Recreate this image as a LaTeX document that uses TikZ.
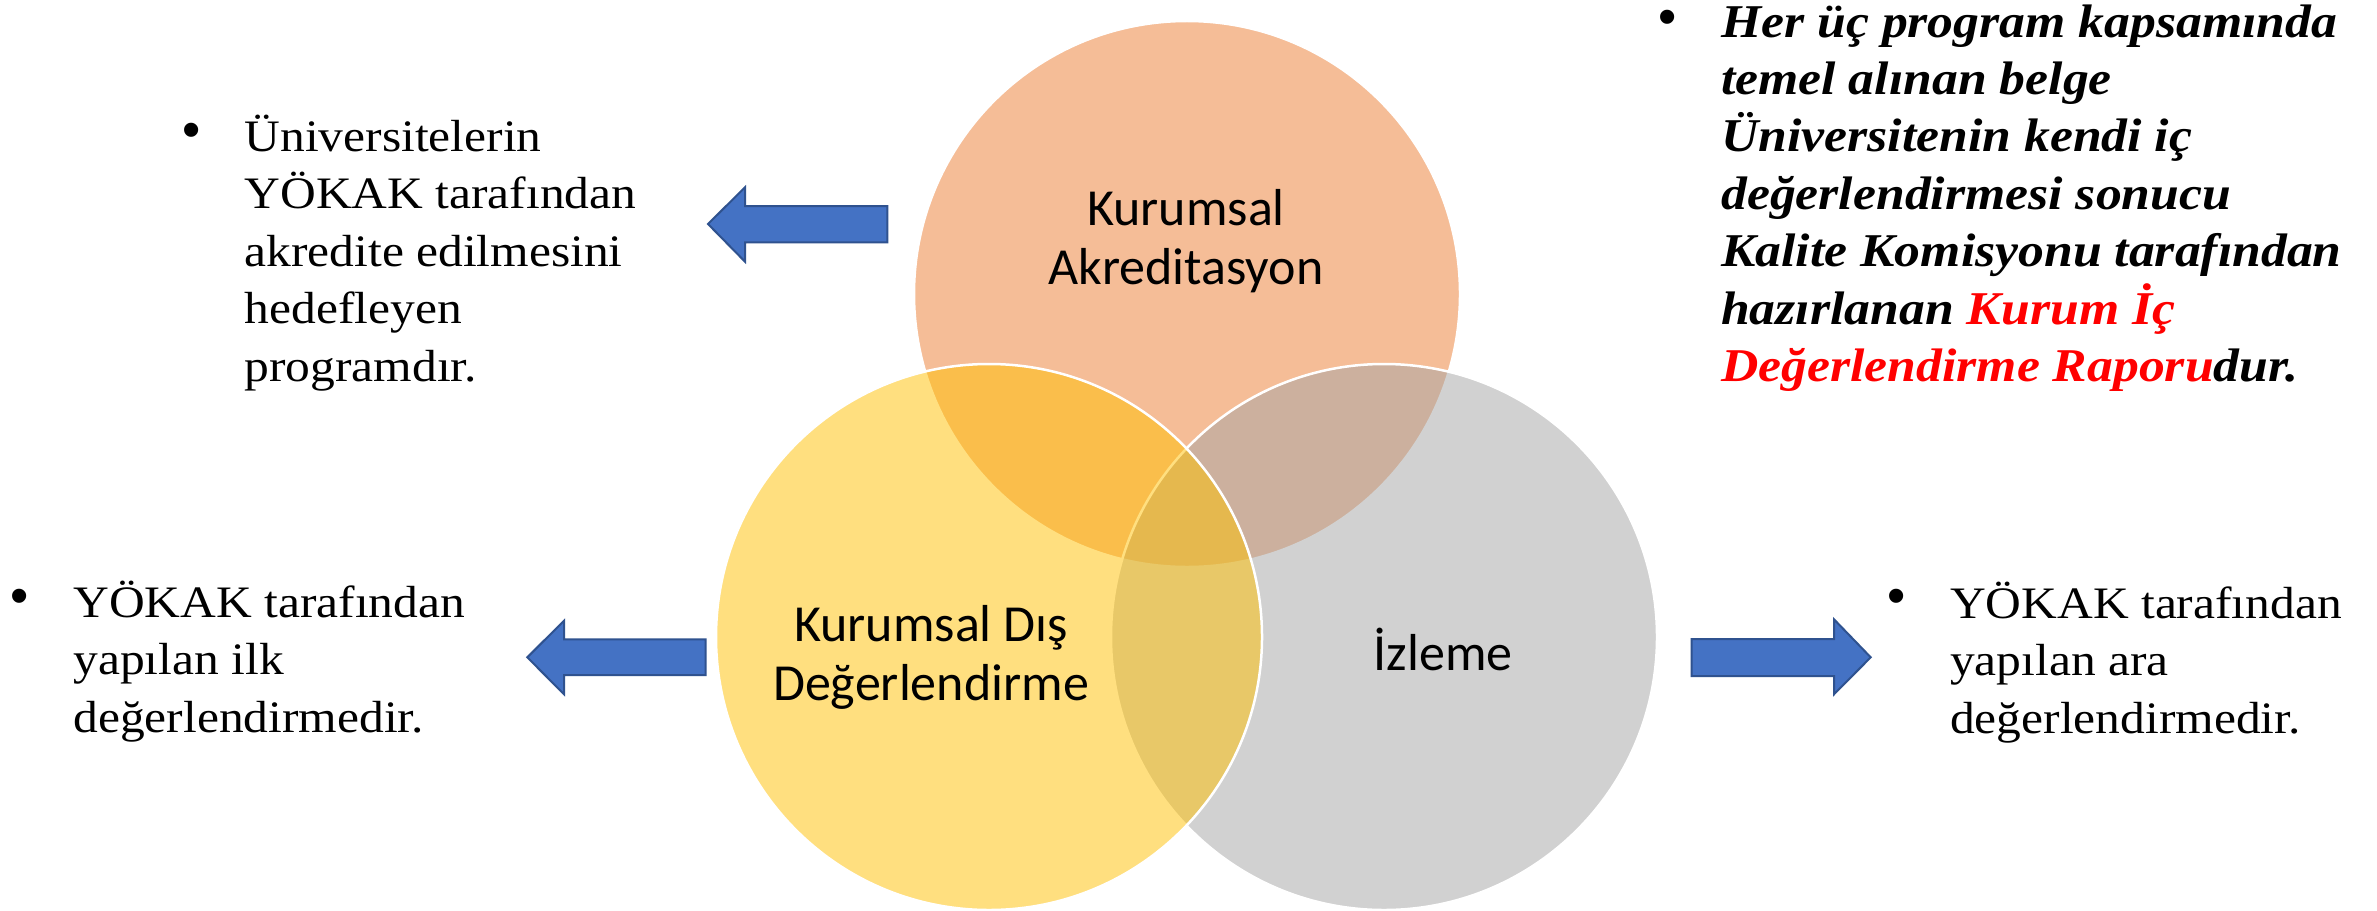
\documentclass[tikz,border=0pt]{standalone}
\usepackage{fontspec}
\setmainfont{Liberation Serif}[FakeStretch=1.1]
\newfontfamily\calfont{Carlito}
\newfontfamily\bulfont{Liberation Sans}
\usepackage{xcolor}
\definecolor{vorange}{HTML}{ED7D31}
\definecolor{vgold}{HTML}{FFC000}
\definecolor{vgray}{HTML}{A5A5A5}
\definecolor{arrfill}{HTML}{4472C4}
\definecolor{arrline}{HTML}{2F528F}
\definecolor{hired}{HTML}{FF0000}
\newcommand\leftlines[1]{\vtop{\halign{##\hfil\cr#1\crcr}}}
\newcommand\centerlines[1]{\vtop{\halign{\hfil##\hfil\cr#1\crcr}}}
\tikzset{
  venn/.style={fill=#1, fill opacity=0.5, draw=white, draw opacity=1, line width=2.5bp},
  blockarrow/.style={fill=arrfill, draw=arrline, line width=2bp, line join=miter},
  bodytext/.style={anchor=base west, inner sep=0pt, font=\fontsize{45bp}{57.5bp}\selectfont},
  boldtext/.style={anchor=base west, inner sep=0pt, font=\fontsize{47bp}{57.4bp}\selectfont\bfseries\itshape},
  circlabel/.style={anchor=base, inner sep=0pt, font=\calfont\fontsize{52bp}{59bp}\selectfont},
  bulletmark/.style={anchor=center, inner sep=0pt, font=\bulfont\fontsize{52bp}{52bp}\selectfont},
}
\begin{document}
\begin{tikzpicture}[x=1bp, y=-1bp]
\useasboundingbox (0,0) rectangle (2377,910);
% Venn circles
\fill[white] (0,0) rectangle (2377,910);
\draw[venn=vorange] (1187,294) circle [radius=273bp];
\draw[venn=vgray] (1384,637) circle [radius=273bp];
\draw[venn=vgold] (989,637) circle [radius=273bp];
% circle labels
\node[circlabel] (ka) at (1186,225.8) {\centerlines{Kurumsal\cr Akreditasyon}};
\node[circlabel] (kd) at (931,641) {\centerlines{Kurumsal Dış\cr Değerlendirme}};
\node[circlabel] (iz) at (1443,670.4) {İzleme};
% arrows
\draw[blockarrow] (708,224) -- (745,187.3) -- (745,206) -- (887.3,206) -- (887.3,242.3) -- (745,242.3) -- (745,261.7) -- cycle;
\draw[blockarrow] (527.3,657.3) -- (564,620.7) -- (564,639.3) -- (705.7,639.3) -- (705.7,675) -- (564,675) -- (564,694.3) -- cycle;
\draw[blockarrow] (1870.7,657.3) -- (1834,619.3) -- (1834,639) -- (1691.7,639) -- (1691.7,676) -- (1834,676) -- (1834,694.3) -- cycle;
% bullets
\node[bulletmark] (b1) at (192,135) {•};
\node[bulletmark] (b2) at (20,601.7) {•};
\node[bulletmark] (b3) at (1896.7,601.7) {•};
\node[bulletmark] (b4) at (1668,22) {•};
% texts
\node[bodytext] (t1) at (244.5,151.3) {\leftlines{Üniversitelerin\cr YÖKAK tarafından\cr akredite edilmesini\cr hedefleyen\cr programdır.}};
\node[bodytext] (t2) at (73.3,617.3) {\leftlines{YÖKAK tarafından\cr yapılan ilk\cr değerlendirmedir.}};
\node[bodytext] (t3) at (1950,618.3) {\leftlines{YÖKAK tarafından\cr yapılan ara\cr değerlendirmedir.}};
\node[boldtext] (t4) at (1721,37) {\leftlines{Her üç program kapsamında\cr temel alınan belge\cr Üniversitenin kendi iç\cr değerlendirmesi sonucu\cr Kalite Komisyonu tarafından\cr hazırlanan {\color{hired}Kurum İç}\cr {\color{hired}Değerlendirme Raporu}dur.}};
\end{tikzpicture}
\end{document}
